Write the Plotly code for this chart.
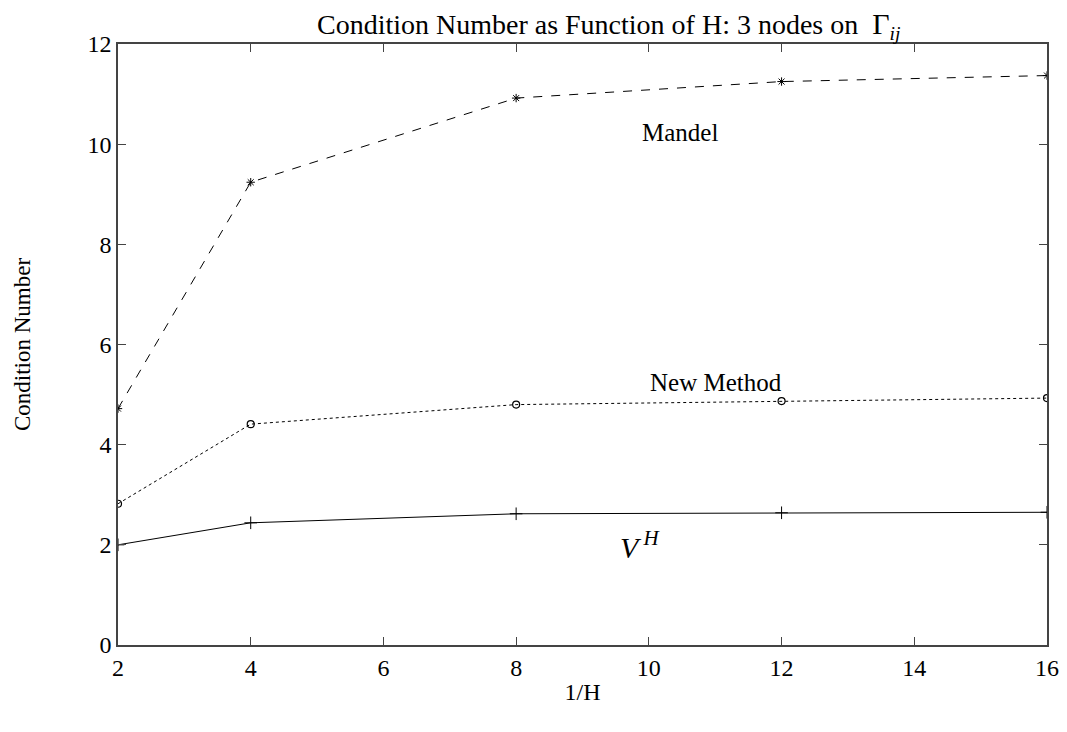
import plotly.graph_objects as go

x_vals = [2, 4, 8, 12, 16]
mandel = [4.72, 9.24, 10.92, 11.25, 11.37]
new_method = [2.82, 4.41, 4.80, 4.87, 4.93]
vh = [2.00, 2.44, 2.62, 2.64, 2.65]

x_ticks = [2, 4, 6, 8, 10, 12, 14, 16]
y_ticks = [0, 2, 4, 6, 8, 10, 12]

FONT = "Liberation Serif"

fig = go.Figure()
fig.add_trace(go.Scatter(x=x_vals, y=mandel, mode="lines+markers",
                         line=dict(color="black", width=1, dash="dash"),
                         marker=dict(symbol="asterisk-open", size=7, color="black",
                                     line=dict(width=1, color="black")),
                         name="Mandel"))
fig.add_trace(go.Scatter(x=x_vals, y=new_method, mode="lines+markers",
                         line=dict(color="black", width=1, dash="dot"),
                         marker=dict(symbol="circle-open", size=7, color="black",
                                     line=dict(width=1.2, color="black")),
                         name="New Method"))
fig.add_trace(go.Scatter(x=x_vals, y=vh, mode="lines+markers",
                         line=dict(color="black", width=1),
                         marker=dict(symbol="cross-thin-open", size=9, color="black",
                                     line=dict(width=1, color="black")),
                         name="VH"))

fig.add_annotation(x=9.87, y=10.24, text="Mandel", showarrow=False, xanchor="left",
                   font=dict(family=FONT, size=25, color="black"))
fig.add_annotation(x=9.99, y=5.24, text="New Method", showarrow=False, xanchor="left",
                   font=dict(family=FONT, size=25, color="black"))
fig.add_annotation(x=9.53, y=2.0, text="<i>V</i><sup> <i>H</i></sup>", showarrow=False,
                   xanchor="left", font=dict(family=FONT, size=30, color="black"))

axis_common = dict(showline=True, linecolor="#444", linewidth=1.5, mirror="allticks",
                   ticks="inside", ticklen=8, tickcolor="#444", showgrid=False,
                   zeroline=False, tickfont=dict(family=FONT, size=24, color="black"))

fig.update_layout(
    width=1067, height=732,
    paper_bgcolor="white", plot_bgcolor="white",
    margin=dict(l=110, r=28, t=36, b=95),
    showlegend=False,
    title=dict(text="Condition Number as Function of H: 3 nodes on  <span style='font-size:30px'>Γ</span><sub><i>ij</i></sub>",
               x=0.563, xanchor="center", y=0.978, yanchor="middle",
               font=dict(family=FONT, size=28, color="black")),
    xaxis=dict(range=[2, 16], tickvals=x_ticks,
               title=dict(text="1/H", font=dict(family=FONT, size=24, color="black"), standoff=4),
               **axis_common),
    yaxis=dict(range=[0, 12], tickvals=y_ticks,
               title=dict(text="Condition Number", font=dict(family=FONT, size=23, color="black"), standoff=50),
               **axis_common),
)

fig.write_html("out.html")
